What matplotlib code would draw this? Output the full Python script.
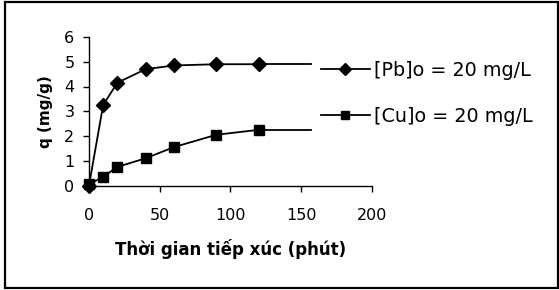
import matplotlib
matplotlib.use("Agg")
import matplotlib.pyplot as plt
from matplotlib.patches import Rectangle
from matplotlib.lines import Line2D

# contact time (minutes)
time_pb = [0, 10, 20, 40, 60, 90, 120]
q_pb = [0.0, 3.25, 4.15, 4.7, 4.85, 4.9, 4.9]
time_cu = [0, 10, 20, 40, 60, 90, 120]
q_cu = [0.05, 0.35, 0.75, 1.1, 1.55, 2.05, 2.25]
# flat tail drawn past the last measurement
tail_end = 157

label_pb = "[Pb]o = 20 mg/L"
label_cu = "[Cu]o = 20 mg/L"

plt.rcParams["font.family"] = ["DejaVu Sans"]

fig = plt.figure(figsize=(5.59, 2.90), dpi=100)
ax = fig.add_axes([89 / 559, 1 - 185.5 / 290, (372 - 89) / 559, (185.5 - 37) / 290])

lw = 1.3
ax.plot(time_pb, q_pb, color="black", lw=lw, marker="D", ms=7.5, clip_on=False, zorder=3)
ax.plot(time_cu, q_cu, color="black", lw=lw, marker="s", ms=7, clip_on=False, zorder=3)
ax.plot([time_pb[-1], tail_end], [q_pb[-1], q_pb[-1]], color="black", lw=lw)
ax.plot([time_cu[-1], tail_end], [q_cu[-1], q_cu[-1]], color="black", lw=lw)

ax.set_xlim(0, 200)
ax.set_ylim(0, 6)
ax.set_xticks([0, 50, 100, 150, 200])
ax.set_yticks(range(0, 7))
for side in ["top", "right"]:
    ax.spines[side].set_visible(False)
for side in ["left", "bottom"]:
    ax.spines[side].set_linewidth(1.0)
ax.tick_params(direction="out", length=4.5, width=1.0, labelsize=11.5)
ax.tick_params(axis="x", pad=12)
ax.tick_params(axis="y", pad=6)

ax.set_xlabel("Thời gian tiếp xúc (phút)", fontsize=12, fontweight="bold", labelpad=11)
ax.set_ylabel("q (mg/g)", fontsize=11, fontweight="bold", labelpad=8)

# legend handles with smaller markers
h_pb = Line2D([], [], color="black", lw=lw, marker="D", ms=6)
h_cu = Line2D([], [], color="black", lw=lw, marker="s", ms=6)
fig.legend([h_pb, h_cu], [label_pb, label_cu], loc="upper left",
           bbox_to_anchor=(321 / 559, 1 - 61 / 290), frameon=False,
           fontsize=13.8, handlelength=2.55, handletextpad=0.2,
           labelspacing=1.4, borderpad=0, borderaxespad=0)

# outer frame around the chart
fig.patches.append(Rectangle((4.5 / 559, 2.5 / 290), (557.5 - 4.5) / 559, (288 - 2.5) / 290,
                             transform=fig.transFigure, fill=False,
                             edgecolor="black", lw=1.6))

fig.savefig("out.png", dpi=100)
